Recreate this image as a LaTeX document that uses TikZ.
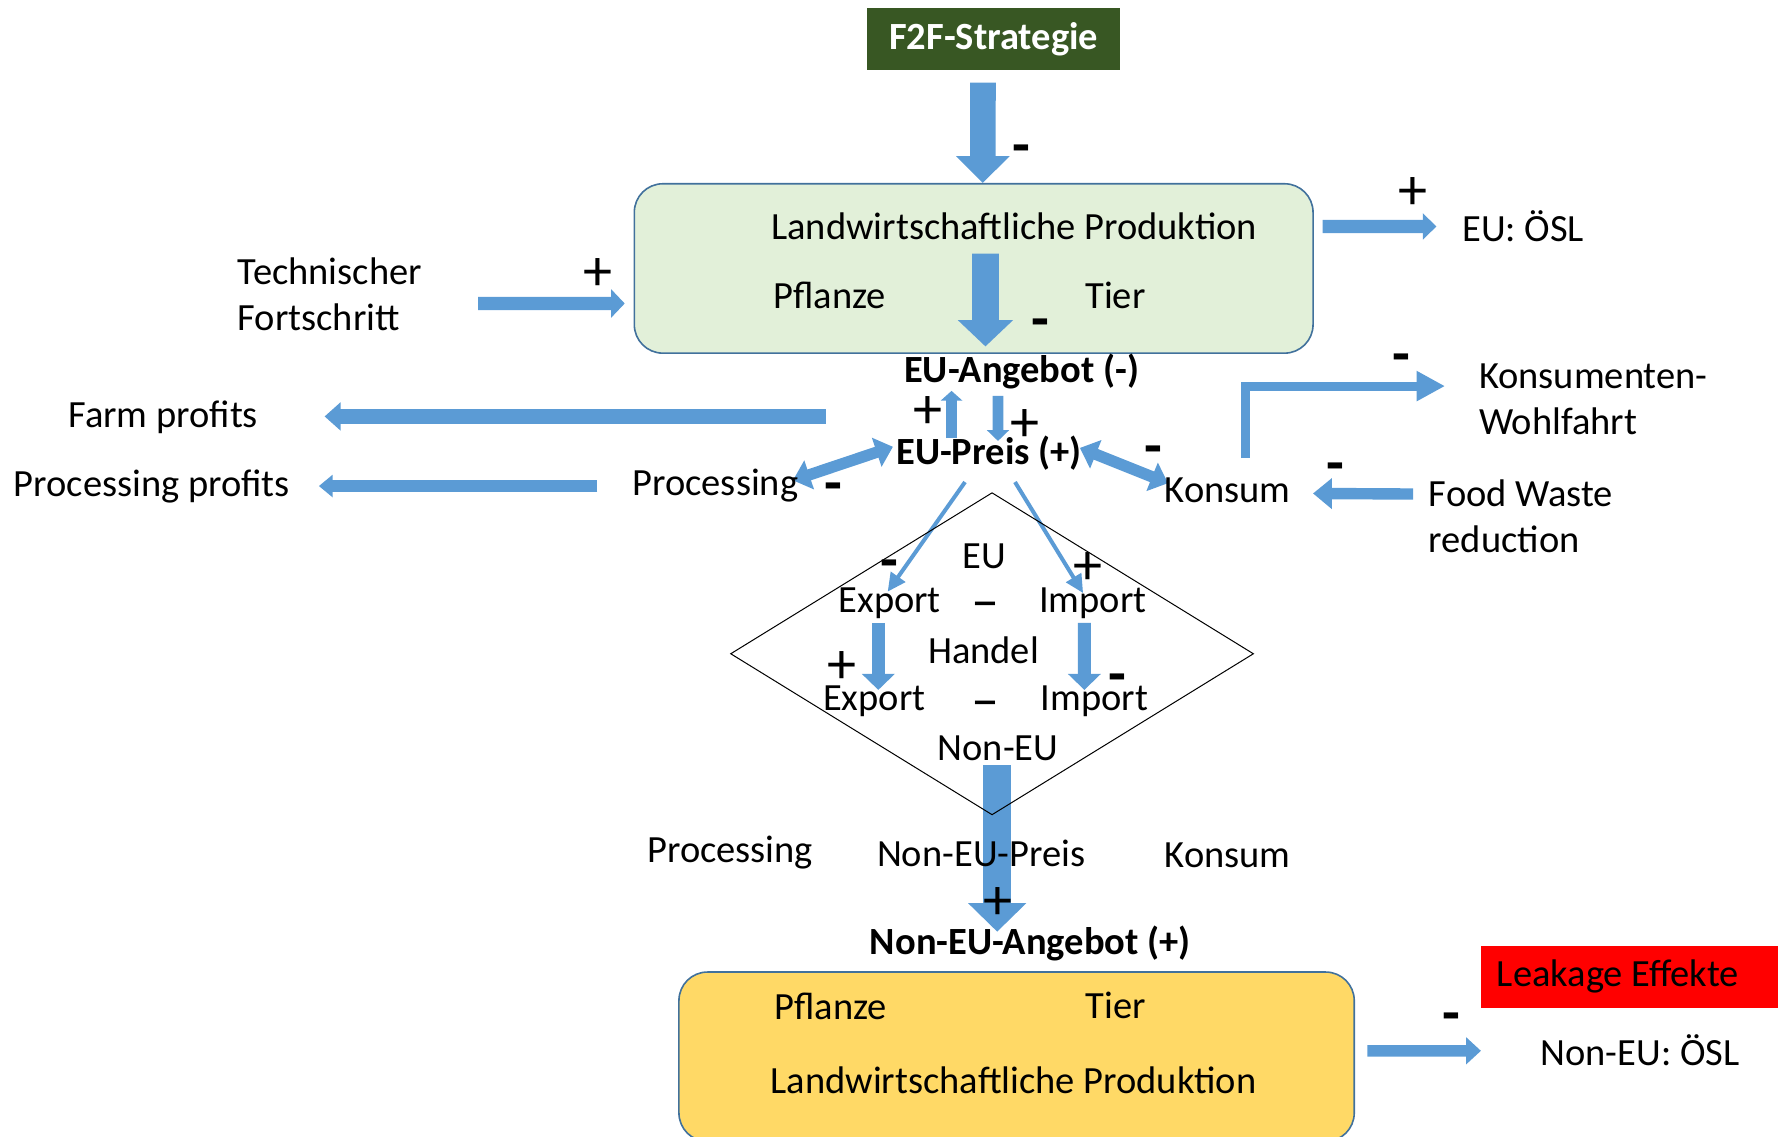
\documentclass[tikz,border=0pt]{standalone}
\usepackage{fontspec}
\setmainfont{Carlito}
\usetikzlibrary{arrows.meta,shapes.geometric}
\pgfdeclarelayer{background}
\pgfsetlayers{background,main}
\definecolor{arrowblue}{RGB}{91,155,213}
\definecolor{f2fgreen}{RGB}{56,87,35}
\definecolor{lightgreen}{RGB}{226,240,217}
\definecolor{boxline}{RGB}{65,113,156}
\definecolor{lightyellow}{RGB}{255,217,102}

\begin{document}
\begin{tikzpicture}[x=0.02cm,y=-0.02cm,
		main node/.style={inner sep=0pt,font=\fontsize{19.2}{22.8}\selectfont},
		bold node/.style={main node,font=\fontsize{19.2}{22.8}\selectfont\bfseries},
		minus/.style={inner sep=0pt,font=\fontsize{29}{30}\selectfont\bfseries,text height=17.4pt,text depth=0pt},
		plus/.style={inner sep=0pt,font=\fontsize{29}{30}\selectfont,text height=19pt,text depth=0pt},
		dash node/.style={inner sep=0pt,font=\fontsize{28}{30}\selectfont,text height=16.8pt,text depth=0pt},
		prod box/.style={rectangle,rounded corners=0.5cm,draw=boxline,line width=0.8pt,
			minimum width=11.9cm,minimum height=2.97cm},
		blue arrow/.style n args={3}{arrowblue,line width=#1,-{Triangle[width=#2,length=#3]}},
		two way/.style={arrowblue,line width=0.2cm,
			{Triangle[width=0.52cm,length=0.3cm]}-{Triangle[width=0.52cm,length=0.3cm]}}]

		\useasboundingbox (0,0) rectangle (1568,996);

		\begin{pgfonlayer}{background}
		\node[prod box,fill=lightgreen] (lwbox) at (853.4,235.3) {};
		\node[prod box,fill=lightyellow,minimum width=11.84cm] (ybox) at (891,926.2) {};
		\node[bold node,fill=f2fgreen,text=white,minimum width=4.44cm,minimum height=1.08cm] (f2f) at (871,34) {F2F-Strategie};
		\node[main node,fill=red,minimum width=5.2cm,minimum height=1.09cm] (leak) at (1428,856) {Leakage Effekte\hspace*{0.4cm}};
		\end{pgfonlayer}

		\node[main node] (lwtitle) at (889,198.5) {Landwirtschaftliche Produktion};
		\node[main node] (pfl) at (727.3,258.5) {Pflanze};
		\node[main node] (tier) at (977.7,258.5) {Tier};
		\node[main node] (euosl) at (1335,198) {EU: ÖSL};
		\node[main node,align=left,anchor=west] (tech) at (208,258) {Technischer\\Fortschritt};
		\node[bold node] (angebot) at (895.4,326) {EU-Angebot (-)};
		\node[bold node] (preis) at (866.8,397.5) {EU-Preis (+)};
		\node[main node] (farm) at (143,366) {Farm profits};
		\node[main node] (procprof) at (133,426) {Processing profits};
		\node[main node] (proc) at (627,426) {Processing};
		\node[main node] (konsum) at (1076,430) {Konsum};
		\node[main node,align=left,anchor=west] (wohl) at (1296,350) {Konsumenten-\\Wohlfahrt};
		\node[main node,align=left,anchor=west] (food) at (1252,452.5) {Food Waste\\reduction};

		\node[draw,diamond,minimum width=9.17cm,minimum height=5.65cm,inner sep=0pt,line width=0.5pt] (trade) at (869.5,573) {};
		\node[main node] (eu) at (862.7,487.3) {EU};
		\node[main node] (ex1) at (779.8,528.8) {Export};
		\node[dash node] (dash1) at (863.6,528.2) {–};
		\node[main node] (im1) at (957.7,528.8) {Import};
		\node[main node] (handel) at (862,570.3) {Handel};
		\node[main node] (ex2) at (766.3,615) {Export};
		\node[dash node] (dash2) at (864,615) {–};
		\node[main node] (im2) at (959.3,615) {Import};
		\node[main node] (noneu) at (874.7,655.8) {Non-EU};

		\node[main node] (procb) at (640,747) {Processing};
		\node[main node] (nepreis) at (860,748) {Non-EU-Preis};
		\node[main node] (konsb) at (1076,750) {Konsum};
		\node[bold node] (neangebot) at (903,827) {Non-EU-Angebot (+)};
		\node[main node] (ypfl) at (727.9,882.3) {Pflanze};
		\node[main node] (ytier) at (978,880.8) {Tier};
		\node[main node] (ytitle) at (888.3,946.5) {Landwirtschaftliche Produktion};
		\node[main node] (nonosl) at (1437.3,920.2) {Non-EU: ÖSL};

		% signs
		\node[minus] (s1) at (895.4,128.5) {-};
		\node[minus] (s2) at (911.5,281.3) {-};
		\node[plus] (s3) at (1238,166.5) {+};
		\node[plus] (s4) at (524,238) {+};
		\node[plus] (s5) at (813,359) {+};
		\node[plus] (s6) at (898,370) {+};
		\node[minus] (s7) at (730,425) {-};
		\node[minus] (s8) at (1010.5,392.6) {-};
		\node[minus] (s9) at (1228,312) {-};
		\node[minus] (s10) at (1170,407.5) {-};
		\node[minus] (s11) at (779.7,492.3) {-};
		\node[plus] (s12) at (953.3,496) {+};
		\node[plus] (s13) at (737.8,582.8) {+};
		\node[minus] (s14) at (979.5,592.5) {-};
		\node[plus] (s15) at (875,788.8) {+};
		\node[minus] (s16) at (1272.3,889.6) {-};

		\begin{pgfonlayer}{background}
		\draw[blue arrow={0.45cm}{0.91cm}{0.47cm}] ([shift={(-9.5,11)}]f2f.south) -- ([shift={(8,0)}]lwbox.north);
		\draw[blue arrow={0.47cm}{0.94cm}{0.46cm}] ([shift={(-25.3,23.7)}]lwtitle.center) -- ([shift={(10.3,-6.6)}]lwbox.south);
		\draw[blue arrow={0.23cm}{0.45cm}{0.24cm}] ([shift={(7.6,-36.8)}]lwbox.east) -- ([shift={(-76,0.5)}]euosl.center);
		\draw[blue arrow={0.23cm}{0.49cm}{0.24cm}] ([shift={(211,8)}]tech.west) -- ([shift={(-7.7,30.7)}]lwbox.west);
		\draw[blue arrow={0.27cm}{0.48cm}{0.28cm}] ([shift={(-143.2,-32.5)}]preis.center) -- ([shift={(141.5,-1)}]farm.center);
		\draw[blue arrow={0.2cm}{0.38cm}{0.24cm}] ([shift={(-103.4,0)}]proc.center) -- ([shift={(146.5,0)}]procprof.center);
		\draw[blue arrow={0.19cm}{0.37cm}{0.17cm}] ([shift={(-32.8,-13.5)}]preis.center) -- ([shift={(-61.4,16.6)}]angebot.center);
		\draw[blue arrow={0.19cm}{0.38cm}{0.19cm}] ([shift={(-20.7,21)}]angebot.center) -- ([shift={(7.9,-11)}]preis.center);
		\draw[two way] ([shift={(68,-5)}]proc.center) -- ([shift={(-84.2,-5.9)}]preis.center);
		\draw[two way] ([shift={(79.7,-4.9)}]preis.center) -- ([shift={(-52.3,-6.5)}]konsum.center);
		\draw[blue arrow={0.07cm}{0.3cm}{0.32cm}] ([shift={(-21,25)}]preis.center) -- ([shift={(-1.8,-10.2)}]ex1.center);
		\draw[blue arrow={0.07cm}{0.3cm}{0.32cm}] ([shift={(22.8,25)}]preis.center) -- ([shift={(-8.4,-9)}]im1.center);
		\draw[blue arrow={0.16cm}{0.5cm}{0.5cm},line join=miter] ([shift={(15.4,-28.4)}]konsum.center) |- ([shift={(-29.5,-11.6)}]wohl.west);
		\draw[blue arrow={0.2cm}{0.52cm}{0.33cm}] ([shift={(-13.4,-19.5)}]food.west) -- ([shift={(74.8,2.5)}]konsum.center);
		\draw[blue arrow={0.23cm}{0.56cm}{0.28cm}] ([shift={(-10,17.2)}]ex1.center) -- ([shift={(3.5,-10.3)}]ex2.center);
		\draw[blue arrow={0.23cm}{0.56cm}{0.28cm}] ([shift={(-7.3,17.2)}]im1.center) -- ([shift={(-8.9,-10.3)}]im2.center);
		\draw[blue arrow={0.5cm}{0.99cm}{0.5cm}] ([shift={(-0.7,14.7)}]noneu.center) -- ([shift={(-29,-10.4)}]neangebot.center);
		\draw[blue arrow={0.2cm}{0.46cm}{0.26cm}] ([shift={(10.8,-5.2)}]ybox.east) -- ([shift={(-139.3,0.8)}]nonosl.center);
		\end{pgfonlayer}
\end{tikzpicture}
\end{document}
